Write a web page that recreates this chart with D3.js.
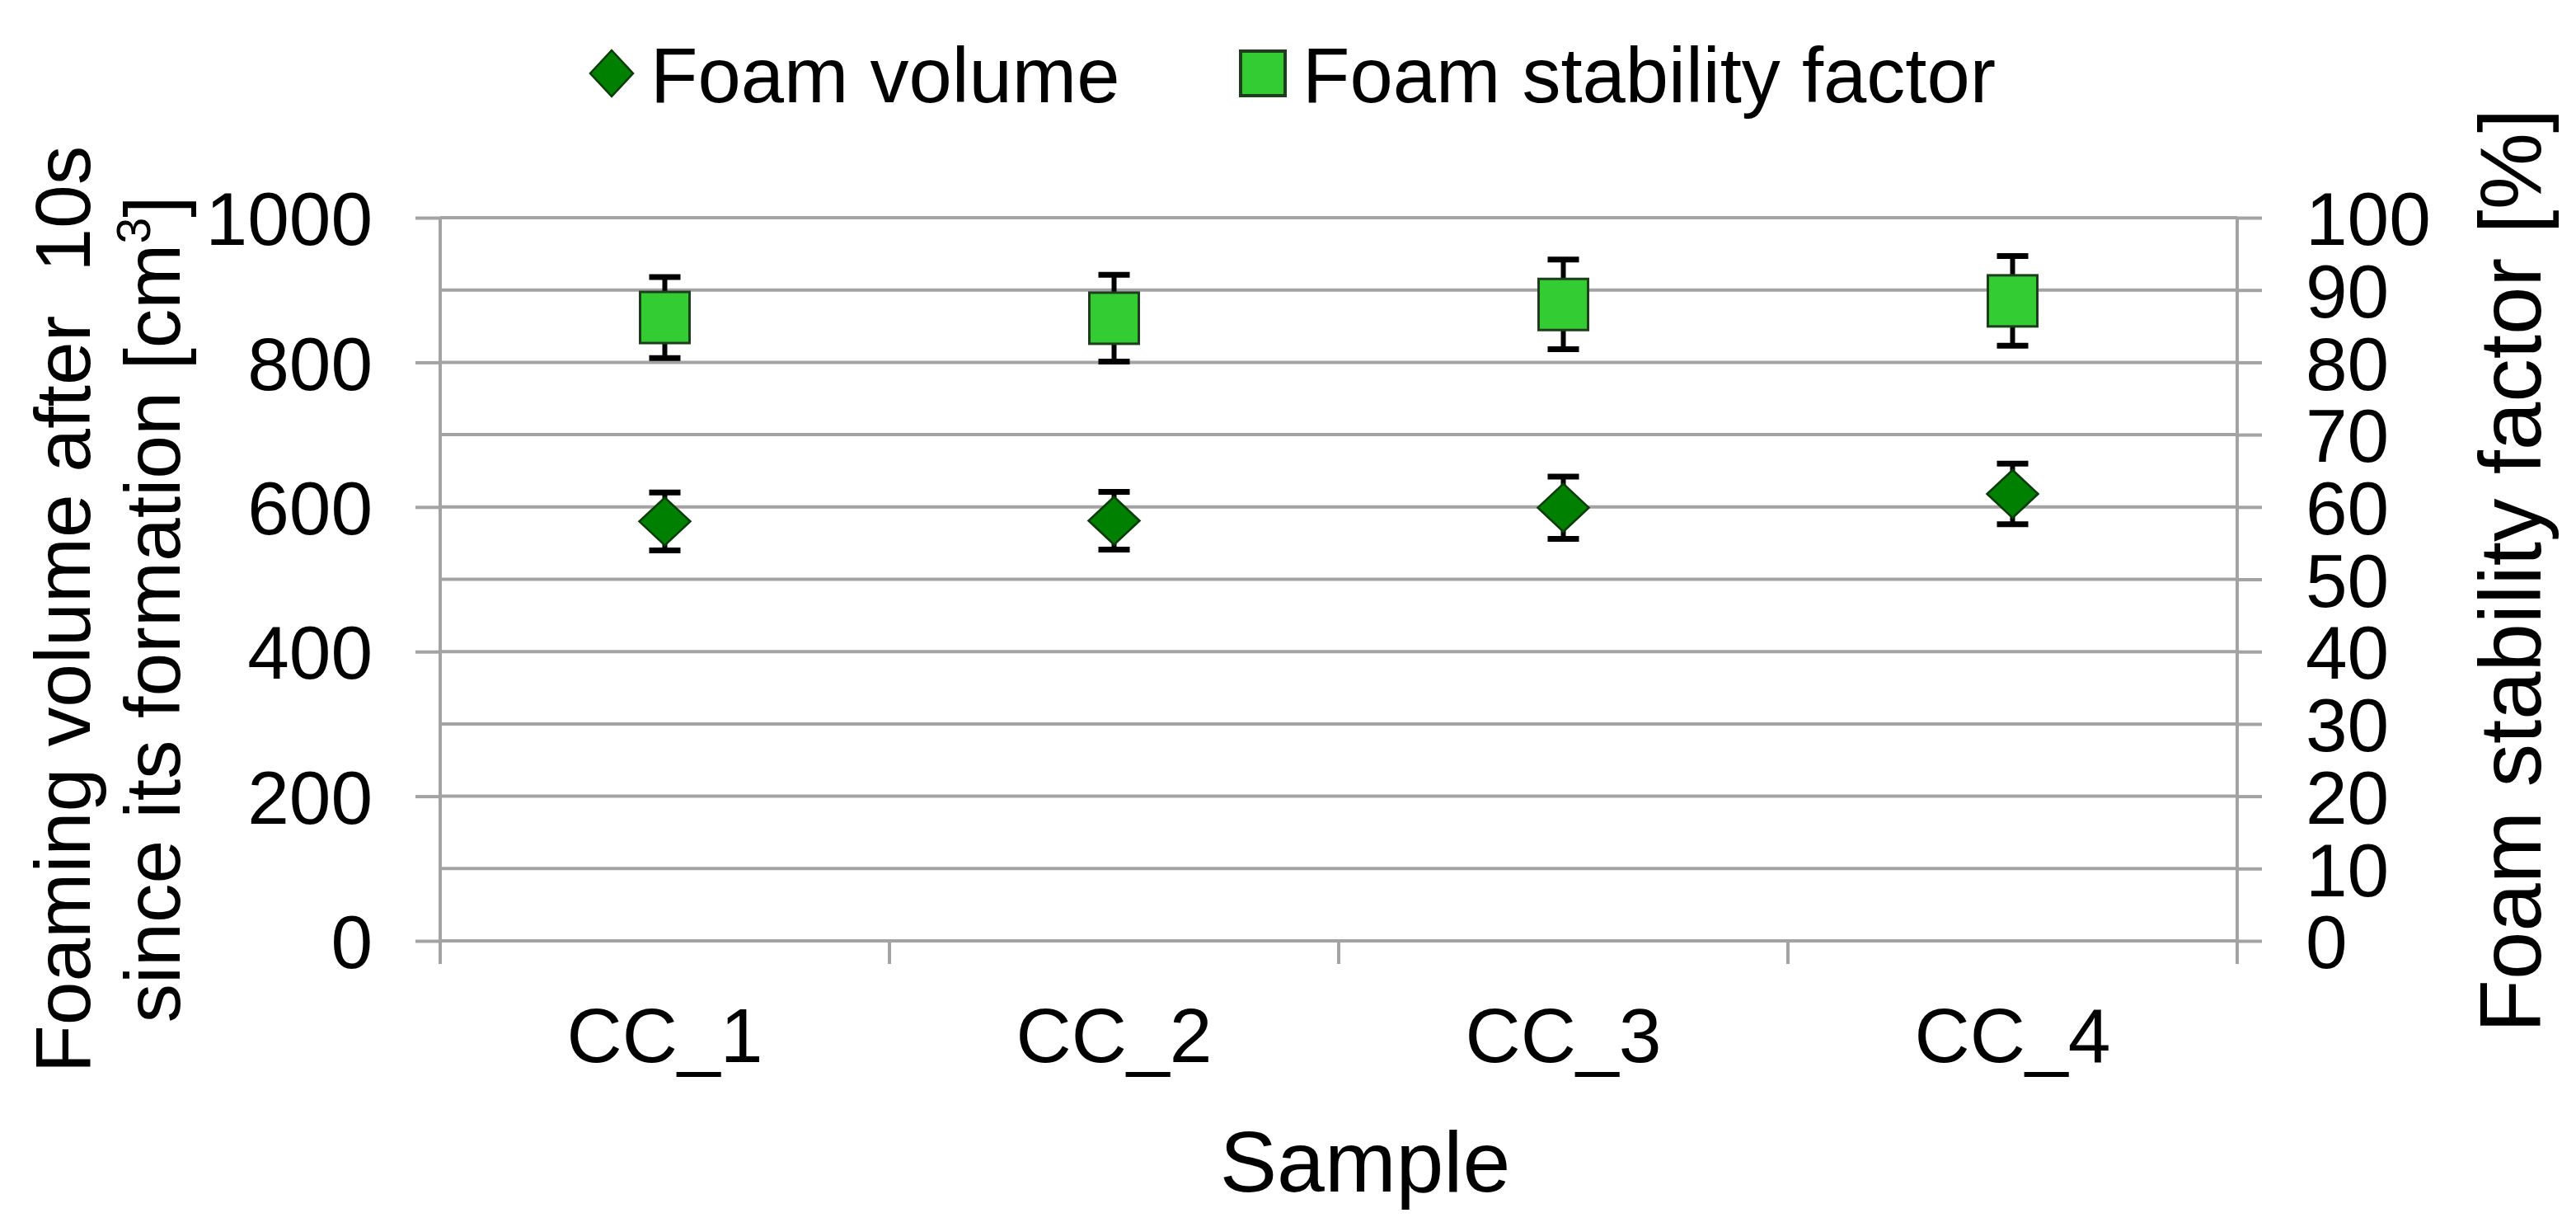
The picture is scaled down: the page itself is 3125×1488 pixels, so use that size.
<!DOCTYPE html>
<html>
<head>
<meta charset="utf-8">
<script src="https://cdn.jsdelivr.net/npm/d3@7"></script>
<style>
  body { margin: 0; background: #fff; }
  text { font-family: "Liberation Sans", Arial, sans-serif; fill: #000; }
</style>
</head>
<body>
<svg id="chart"></svg>
<script>
// chart values
const samples = ["CC_1", "CC_2", "CC_3", "CC_4"];
const foamVolume = [580, 581, 599, 618];
const foamVolumeErr = [40, 40, 43, 42];
const stabilityFactor = [86.2, 86.1, 88.0, 88.5];
const stabilityErr = [5.6, 6.0, 6.2, 6.2];
const leftTicks = [0, 200, 400, 600, 800, 1000];
const rightTicks = [0, 10, 20, 30, 40, 50, 60, 70, 80, 90, 100];

const WIDTH = 3125;
const HEIGHT = 1488;
const plotLeft = 534, plotRight = 2714, plotTop = 264, plotBottom = 1141;
const GRID = "#a3a3a3";

let svg = d3.select("#chart")
  .attr("width", WIDTH)
  .attr("height", HEIGHT);

svg.append("rect")
  .attr("width", WIDTH)
  .attr("height", HEIGHT)
  .style("fill", "#fff");

let x = d3.scaleBand()
  .domain(samples)
  .range([plotLeft, plotRight]);

let yLeft = d3.scaleLinear()
  .domain([0, 1000])
  .range([plotBottom, plotTop]);

let yRight = d3.scaleLinear()
  .domain([0, 100])
  .range([plotBottom, plotTop]);

// horizontal gridlines, one per right-axis tick
svg.append("g")
  .attr("class", "grid")
.selectAll("line")
  .data(rightTicks)
.enter().append("line")
  .attr("x1", plotLeft)
  .attr("x2", plotRight)
  .attr("y1", d => yRight(d))
  .attr("y2", d => yRight(d))
  .style("stroke", GRID)
  .style("stroke-width", 4);

// left axis
let leftAxis = svg.append("g")
  .attr("transform", "translate(" + plotLeft + ",0)")
  .call(d3.axisLeft(yLeft)
    .tickValues(leftTicks)
    .tickFormat(d3.format("d"))
    .tickSize(30)
    .tickSizeOuter(0)
    .tickPadding(52));

// right axis
let rightAxis = svg.append("g")
  .attr("transform", "translate(" + plotRight + ",0)")
  .call(d3.axisRight(yRight)
    .tickValues(rightTicks)
    .tickFormat(d3.format("d"))
    .tickSize(30)
    .tickSizeOuter(0)
    .tickPadding(53));

[leftAxis, rightAxis].forEach((ax) => {
  ax.select(".domain").remove();
  ax.selectAll("line").style("stroke", GRID).style("stroke-width", 4);
  ax.selectAll("text")
    .style("font-family", "'Liberation Sans', Arial, sans-serif")
    .style("font-size", "91px")
    .attr("dy", "0.36em");
});

// vertical axis lines, running a bit below zero
svg.selectAll(".vaxis")
  .data([plotLeft, plotRight])
.enter().append("line")
  .attr("class", "vaxis")
  .attr("x1", d => d)
  .attr("x2", d => d)
  .attr("y1", plotTop)
  .attr("y2", plotBottom + 28)
  .style("stroke", GRID)
  .style("stroke-width", 4);

// category separators
svg.selectAll(".sep")
  .data(samples.map(d => x(d)).concat([plotRight]))
.enter().append("line")
  .attr("class", "sep")
  .attr("x1", d => d)
  .attr("x2", d => d)
  .attr("y1", plotBottom)
  .attr("y2", plotBottom + 28)
  .style("stroke", GRID)
  .style("stroke-width", 4);

// bottom labels
let bottomAxis = svg.append("g")
  .attr("transform", "translate(0," + plotBottom + ")")
  .call(d3.axisBottom(x).tickSize(0).tickPadding(0));

bottomAxis.select(".domain").remove();
bottomAxis.selectAll("text")
  .style("font-family", "'Liberation Sans', Arial, sans-serif")
  .style("font-size", "93px")
  .attr("y", 147)
  .attr("dy", 0);

// error bars (under the markers)
function errorBars(values, errs, scale, cls) {
  let g = svg.append("g").attr("class", cls);
  let data = samples.map((s, i) => ({ s: s, v: values[i], e: errs[i] }));

  g.selectAll(".stem")
    .data(data)
  .enter().append("line")
    .attr("x1", d => x(d.s) + x.bandwidth() / 2)
    .attr("x2", d => x(d.s) + x.bandwidth() / 2)
    .attr("y1", d => scale(d.v - d.e))
    .attr("y2", d => scale(d.v + d.e))
    .style("stroke", "#000")
    .style("stroke-width", 6);

  g.selectAll(".cap")
    .data(data.flatMap(d => [{ s: d.s, y: d.v - d.e }, { s: d.s, y: d.v + d.e }]))
  .enter().append("line")
    .attr("x1", d => x(d.s) + x.bandwidth() / 2 - 19)
    .attr("x2", d => x(d.s) + x.bandwidth() / 2 + 19)
    .attr("y1", d => scale(d.y))
    .attr("y2", d => scale(d.y))
    .style("stroke", "#000")
    .style("stroke-width", 7);
}

errorBars(stabilityFactor, stabilityErr, yRight, "errStab");
errorBars(foamVolume, foamVolumeErr, yLeft, "errVol");

function diamondPath(w, h) {
  return "M0," + (-h / 2) + "L" + (w / 2) + ",0L0," + (h / 2) + "L" + (-w / 2) + ",0Z";
}

// foam stability squares
svg.selectAll(".stab")
  .data(stabilityFactor)
.enter().append("rect")
  .attr("class", "stab")
  .attr("x", (d, i) => x(samples[i]) + x.bandwidth() / 2 - 30)
  .attr("y", d => yRight(d) - 31)
  .attr("width", 60)
  .attr("height", 62)
  .style("fill", "#33cc33")
  .style("stroke", "#1d3d1d")
  .style("stroke-width", 3);

// foam volume diamonds
svg.selectAll(".vol")
  .data(foamVolume)
.enter().append("path")
  .attr("class", "vol")
  .attr("d", diamondPath(62, 58))
  .attr("transform", (d, i) => "translate(" + (x(samples[i]) + x.bandwidth() / 2) + "," + yLeft(d) + ")")
  .style("fill", "#008000")
  .style("stroke", "#0b3b0b")
  .style("stroke-width", 2.5);

// axis titles
svg.append("text")
  .attr("transform", "translate(109,739) rotate(-90)")
  .attr("text-anchor", "middle")
  .style("font-size", "95px")
  .style("white-space", "pre")
  .text("Foaming volume after  10s");

let t2 = svg.append("text")
  .attr("transform", "translate(218,739) rotate(-90)")
  .attr("text-anchor", "middle")
  .style("font-size", "95px");
t2.append("tspan").text("since its formation [cm");
t2.append("tspan").attr("dy", -36).style("font-size", "57px").text("3");
t2.append("tspan").attr("dy", 36).text("]");

svg.append("text")
  .attr("transform", "translate(3082,692) rotate(-90)")
  .attr("text-anchor", "middle")
  .style("font-size", "105px")
  .text("Foam stability factor [%]");

svg.append("text")
  .attr("x", 1656)
  .attr("y", 1445)
  .attr("text-anchor", "middle")
  .style("font-size", "104px")
  .text("Sample");

// legend
let legend = svg.append("g").attr("class", "legend");

legend.append("path")
  .attr("d", diamondPath(52, 56))
  .attr("transform", "translate(742,89)")
  .style("fill", "#008000")
  .style("stroke", "#0b3b0b")
  .style("stroke-width", 2.5);

legend.append("text")
  .attr("x", 789)
  .attr("y", 124)
  .style("font-size", "94px")
  .text("Foam volume");

legend.append("rect")
  .attr("x", 1505)
  .attr("y", 62)
  .attr("width", 54)
  .attr("height", 54)
  .style("fill", "#33cc33")
  .style("stroke", "#1d3d1d")
  .style("stroke-width", 4);

legend.append("text")
  .attr("x", 1580)
  .attr("y", 124)
  .style("font-size", "94px")
  .text("Foam stability factor");
</script>
</body>
</html>
